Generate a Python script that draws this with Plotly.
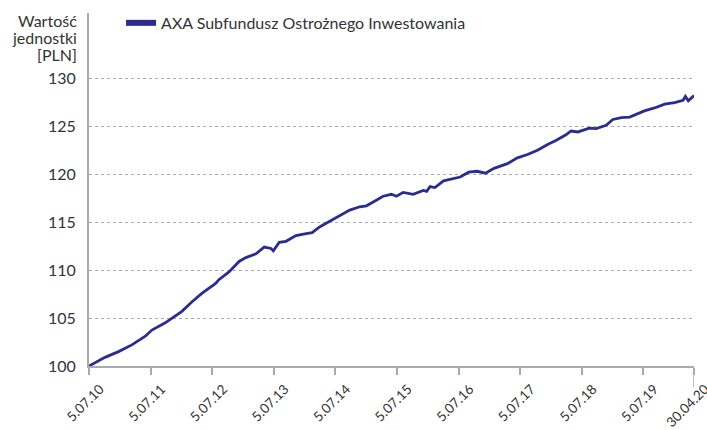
import plotly.graph_objects as go

dates = [
    "2010-07-05", "2010-10-08", "2010-12-27", "2011-03-16", "2011-06-04", "2011-07-13",
    "2011-09-30", "2012-01-07", "2012-03-07", "2012-05-06", "2012-07-25", "2012-08-13",
    "2012-10-12", "2012-12-11", "2013-01-20", "2013-03-21", "2013-05-09", "2013-06-18",
    "2013-07-02", "2013-08-06", "2013-09-15", "2013-11-13", "2014-01-13", "2014-02-17",
    "2014-04-02", "2014-05-31", "2014-07-10", "2014-09-28", "2014-11-26", "2015-01-05",
    "2015-02-14", "2015-04-14", "2015-06-02", "2015-07-02", "2015-08-11", "2015-10-09",
    "2015-12-08", "2015-12-28", "2016-01-17", "2016-02-15", "2016-04-06", "2016-06-04",
    "2016-07-14", "2016-09-02", "2016-10-22", "2016-12-11", "2017-01-30", "2017-04-20",
    "2017-06-18", "2017-08-17", "2017-10-15", "2017-12-14", "2018-02-01", "2018-04-02",
    "2018-05-02", "2018-06-11", "2018-06-30", "2018-08-19", "2018-09-28", "2018-11-26",
    "2019-01-05", "2019-02-24", "2019-04-15", "2019-05-15", "2019-07-11", "2019-09-09",
    "2019-11-08", "2020-01-06", "2020-02-25", "2020-03-10", "2020-03-27", "2020-04-30",
]
values = [
    100.0, 100.9, 101.5, 102.2, 103.1, 103.75,
    104.5, 105.7, 106.7, 107.6, 108.6, 109.0,
    109.8, 110.9, 111.3, 111.7, 112.4, 112.25,
    112.0, 112.9, 113.0, 113.6, 113.8, 113.9,
    114.5, 115.1, 115.5, 116.25, 116.6, 116.7,
    117.1, 117.7, 117.9, 117.7, 118.1, 117.9,
    118.3, 118.2, 118.7, 118.6, 119.3, 119.55,
    119.7, 120.2, 120.3, 120.1, 120.6, 121.1,
    121.7, 122.05, 122.5, 123.1, 123.5, 124.1,
    124.5, 124.4, 124.5, 124.8, 124.75, 125.1,
    125.7, 125.9, 125.95, 126.15, 126.6, 126.9,
    127.3, 127.45, 127.7, 128.1, 127.65, 128.2,
]

tick_dates = ["2010-07-05", "2011-07-05", "2012-07-05", "2013-07-05", "2014-07-05",
              "2015-07-05", "2016-07-05", "2017-07-05", "2018-07-05", "2019-07-05",
              "2020-04-30"]
tick_labels = ["5.07.10", "5.07.11", "5.07.12", "5.07.13", "5.07.14", "5.07.15",
               "5.07.16", "5.07.17", "5.07.18", "5.07.19", "30.04.20"]
y_ticks = [100, 105, 110, 115, 120, 125, 130]
title_lines = ["Wartość", "jednostki", "[PLN]"]

series_name = "AXA Subfundusz Ostrożnego Inwestowania"
line_color = "#2b2d8e"
axis_color = "#aaaaaa"
font_family = "Lato, 'Noto Sans', sans-serif"
text_color = "#333333"

fig = go.Figure()
fig.add_trace(go.Scatter(
    x=dates, y=values, mode="lines", name=series_name,
    line=dict(color=line_color, width=2.8), showlegend=False, legendgroup="a",
))
fig.add_trace(go.Scatter(
    x=[None], y=[None], mode="lines", name=series_name,
    line=dict(color=line_color, width=6), showlegend=True, legendgroup="a",
))

annotations = []
for i, t in enumerate(title_lines):
    annotations.append(dict(
        text=t, xref="paper", yref="paper",
        x=0, y=0.980 - i * 0.0482, xanchor="right", yanchor="middle", align="right",
        xshift=-10, showarrow=False,
        font=dict(size=16, color=text_color),
    ))

# longer end tick at the last date
fig.add_shape(type="line", xref="x", yref="paper",
              x0=tick_dates[-1], x1=tick_dates[-1], y0=0, y1=-0.06,
              line=dict(color=axis_color, width=1.5))

fig.update_layout(
    width=707, height=430,
    margin=dict(l=89, r=13, t=13, b=64, autoexpand=False),
    paper_bgcolor="white", plot_bgcolor="white",
    font=dict(family=font_family, size=15, color=text_color),
    legend=dict(x=0.053, y=1.02, xanchor="left", yanchor="top",
                bgcolor="rgba(0,0,0,0)", font=dict(size=16, color=text_color),
                itemwidth=30),
    xaxis=dict(
        type="date", range=["2010-07-05", "2020-04-30"],
        tickvals=tick_dates, ticktext=tick_labels, tickangle=-45,
        ticks="outside", ticklen=7, tickcolor=axis_color, tickwidth=1.5,
        showline=True, linecolor=axis_color, linewidth=2,
        showgrid=False, zeroline=False,
        ticklabelshift=11, ticklabelstandoff=1, ticklabeloverflow="allow",
        tickfont=dict(size=13.5, color=text_color),
    ),
    yaxis=dict(
        range=[100, 136.8], tickvals=y_ticks, ticks="",
        showline=True, linecolor=axis_color, linewidth=2,
        showgrid=True, gridcolor=axis_color, griddash="dot", gridwidth=1,
        zeroline=False, ticklabelstandoff=8,
        tickfont=dict(size=16, color=text_color),
    ),
    annotations=annotations,
)

fig.write_html("out.html", config={"displayModeBar": False},
               post_script="document.body.style.margin='0';")
